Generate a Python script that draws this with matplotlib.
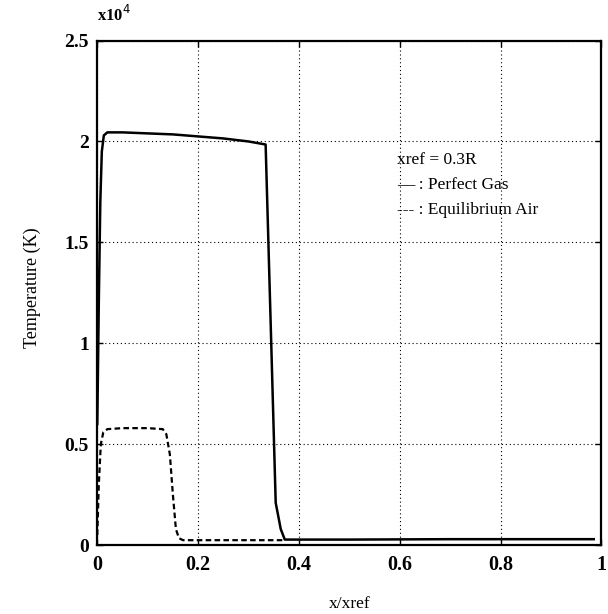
import matplotlib
matplotlib.use("Agg")
import matplotlib.pyplot as plt
import numpy as np

# values, temperature in units of 1e4 K
x_perfect = [0.0, 0.003, 0.006, 0.009, 0.013, 0.02, 0.05, 0.1, 0.15, 0.2, 0.25, 0.3, 0.334,
             0.344, 0.354, 0.364, 0.372, 0.5, 0.7, 0.9, 0.985]
t_perfect = [0.6, 1.2, 1.7, 1.95, 2.03, 2.045, 2.045, 2.04, 2.035, 2.025, 2.015, 2.0, 1.985,
             1.1, 0.21, 0.08, 0.028, 0.028, 0.03, 0.03, 0.03]

x_equil = [0.0, 0.003, 0.007, 0.012, 0.02, 0.05, 0.1, 0.13, 0.137, 0.144, 0.15, 0.156, 0.162,
           0.17, 0.25, 0.37]
t_equil = [0.05, 0.3, 0.5, 0.56, 0.575, 0.58, 0.58, 0.575, 0.55, 0.45, 0.25, 0.08, 0.035,
           0.025, 0.025, 0.025]

xticks = [0, 0.2, 0.4, 0.6, 0.8, 1]
xtick_labels = ["0", "0.2", "0.4", "0.6", "0.8", "1"]
yticks = [0, 0.5, 1, 1.5, 2, 2.5]
ytick_labels = ["0", "0.5", "1", "1.5", "2", "2.5"]

plt.rcParams['font.family'] = ['Liberation Serif', 'DejaVu Serif']

fig = plt.figure(figsize=(6.08, 6.14), dpi=100)
ax = fig.add_axes([0.160, 0.112, 0.829, 0.822])

ax.plot(x_perfect, t_perfect, color='black', lw=1.8, solid_joinstyle='round')
ax.plot(x_equil, t_equil, color='black', lw=1.6, linestyle=(0, (2.5, 1.5)))

ax.set_xlim(0, 1)
ax.set_ylim(0, 2.5)
ax.set_xticks(xticks)
ax.set_xticklabels(xtick_labels, fontsize=14.5, fontweight='bold')
ax.set_yticks(yticks)
ax.set_yticklabels(ytick_labels, fontsize=14, fontweight='bold')
ax.tick_params(direction='in', length=4, width=1, top=True, right=True, pad=6)
ax.tick_params(axis='x', pad=7)
ax.grid(True, color='black', linestyle=(0, (1, 2.5)), linewidth=0.8)
for s in ax.spines.values():
    s.set_linewidth(1.6)

ax.set_xlabel("x/xref", fontsize=12.5, va='center')
ax.xaxis.set_label_coords(0.5, -0.116)
ax.set_ylabel("Temperature (K)", fontsize=13, va='center')
ax.yaxis.set_label_coords(-0.128, 0.51)

ax.text(0.0, 1.03, "x10$^4$", transform=ax.transAxes, fontsize=12, fontweight='bold',
        ha='left', va='bottom')

ax.text(0.595, 0.764, "xref = 0.3R", transform=ax.transAxes, fontsize=12.5, va='center')
ax.text(0.595, 0.714, "\u2014 : Perfect Gas", transform=ax.transAxes, fontsize=12.5, va='center')
ax.text(0.595, 0.665, "--- : Equilibrium Air", transform=ax.transAxes, fontsize=12.5, va='center')

fig.savefig("out.png", dpi=100)
